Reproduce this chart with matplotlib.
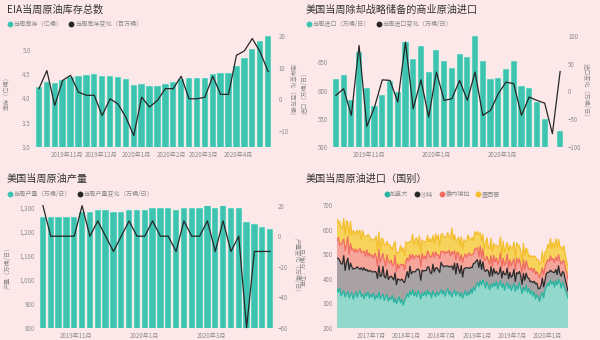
import matplotlib
matplotlib.use("Agg")
import matplotlib.pyplot as plt
import matplotlib.dates as mdates
from matplotlib.lines import Line2D
from matplotlib.ticker import FuncFormatter
import numpy as np
import pandas as pd

plt.rcParams['font.family'] = ['Noto Sans CJK SC', 'DejaVu Sans']

# ---------------- data ----------------
inv_title = 'EIA当周原油库存总数'
inv_legend = ['当周库存（亿桶）', '当周库存变化（百万桶）']
inv_ylabels = ['库存（亿桶）', '库存变化（百万桶）']
inv_start = '2019-10-07'
inventory = [4.24, 4.33, 4.31, 4.37, 4.44, 4.46, 4.48, 4.49, 4.45, 4.45,
             4.44, 4.39, 4.28, 4.29, 4.26, 4.26, 4.30, 4.33, 4.40, 4.41,
             4.41, 4.42, 4.50, 4.51, 4.53, 4.67, 4.83, 5.02, 5.17, 5.27]
inventory_change = [3.4, 9.1, -1.9, 6.0, 7.6, 2.3, 1.3, 1.3, -5.1, 0.2,
                    -1.4, -5.6, -11.4, 0.7, -2.4, -0.3, 3.4, 3.4, 7.3, 0.2,
                    0.2, 0.7, 7.3, 1.6, 1.6, 13.9, 15.3, 19.2, 15.0, 8.8]
inv_left_ticks = [3.0, 3.5, 4.0, 4.5, 5.0]
inv_right_ticks = [-10, 0, 10, 20]

imp_title = '美国当周除却战略储备的商业原油进口'
imp_legend = ['当周进口（万桶/日）', '当周进口变化（万桶/日）']
imp_ylabels = ['进口（万桶/日）', '进口变化（万桶/日）']
imp_start = '2019-10-02'
imports = [620, 627, 584, 669, 605, 573, 593, 618, 598, 686,
           656, 679, 633, 672, 653, 641, 665, 660, 697, 653,
           620, 622, 639, 653, 609, 604, 580, 550, 478, 528]
imports_change = [-7, 5, -43, 83, -63, -28, 21, 20, -19, 89,
                  -31, 21, -46, 35, -16, -13, 20, -16, 35, -43,
                  -34, -4, 17, 14, -43, -10, -16, -21, -76, 36]
imp_left_ticks = [500, 550, 600, 650]
imp_right_ticks = [-100, -50, 0, 50, 100]

prod_title = '美国当周原油产量'
prod_legend = ['当周产量（万桶/日）', '当周产量变化（万桶/日）']
prod_ylabels = ['产量（万桶/日）', '产量变化（万桶/日）']
prod_start = '2019-10-02'
production = [1260, 1260, 1260, 1260, 1260, 1280, 1280, 1290, 1290, 1280,
              1280, 1290, 1290, 1290, 1300, 1300, 1300, 1290, 1300, 1300,
              1300, 1310, 1300, 1310, 1300, 1300, 1240, 1230, 1220, 1210]
production_change = [20, 0, 0, 0, 0, 20, 0, 10, 0, -10,
                     0, 10, 0, 0, 10, 0, 0, -10, 10, 0,
                     0, 10, -10, 10, -10, 0, -60, -10, -10, -10]
prod_left_ticks = [800, 900, 1000, 1100, 1200, 1300]
prod_right_ticks = [-60, -40, -20, 0, 20]

cty_title = '美国当周原油进口（国别）'
cty_ylabel = '单位：万桶/日'
cty_start = '2017-01-06'
countries = ['加拿大', '沙特', '委内瑞拉', '墨西哥']
canada = [358, 345, 362, 330, 341, 352, 326, 338, 349, 322, 335, 344, 318,
          332, 347, 325, 340, 351, 328, 336, 319, 342, 330, 348, 321, 337,
          326, 341, 315, 333, 322, 346, 318, 329, 338, 312, 327, 335, 309,
          324, 316, 332, 305, 320, 298, 314, 327, 302, 318, 292, 310, 323,
          338, 326, 349, 334, 356, 331, 345, 327, 352, 339, 318, 343, 332,
          347, 329, 355, 336, 344, 322, 351, 338, 327, 349, 333, 341, 356,
          338, 352, 329, 346, 361, 335, 348, 326, 342, 355, 331, 347, 339,
          328, 344, 321, 337, 352, 330, 346, 335, 358, 341, 366, 352, 372,
          385, 368, 392, 374, 397, 380, 362, 388, 371, 356, 379, 366, 384,
          370, 389, 358, 376, 392, 365, 381, 354, 373, 386, 361, 378, 352,
          368, 381, 349, 372, 358, 385, 362, 340, 366, 351, 374, 345, 360,
          338, 352, 329, 346, 318, 335, 324, 308, 331, 345, 322, 356, 368,
          382, 371, 395, 378, 389, 366, 392, 375, 398, 384, 362, 387, 371,
          355, 338, 322]
saudi = [125, 138, 112, 131, 119, 142, 108, 127, 135, 115, 129, 104, 121,
         110, 96, 124, 103, 88, 117, 99, 126, 92, 108, 81, 113, 95,
         102, 87, 115, 94, 79, 106, 91, 84, 112, 97, 76, 101, 88,
         83, 95, 72, 90, 104, 78, 86, 69, 92, 81, 98, 74, 85,
         91, 79, 102, 86, 73, 97, 84, 110, 88, 95, 76, 92, 99,
         87, 104, 93, 112, 81, 99, 108, 90, 117, 96, 103, 85, 111,
         118, 97, 123, 105, 92, 114, 101, 126, 95, 109, 88, 116, 102,
         94, 110, 86, 103, 92, 115, 98, 107, 89, 104, 96, 112, 101,
         92, 78, 85, 64, 72, 55, 68, 49, 61, 53, 70, 46, 58,
         52, 41, 60, 47, 55, 38, 50, 63, 44, 57, 39, 48, 54,
         46, 58, 40, 53, 62, 45, 51, 37, 56, 43, 49, 60, 42,
         50, 38, 55, 44, 61, 47, 36, 52, 41, 58, 45, 39, 53,
         44, 56, 40, 51, 38, 59, 46, 42, 55, 37, 49, 43, 52,
         41, 34, 28]
venezuela = [72, 85, 64, 78, 91, 68, 80, 74, 87, 62, 79, 70, 83,
             66, 78, 59, 73, 84, 61, 75, 68, 57, 80, 64, 71, 58,
             69, 55, 74, 62, 50, 67, 58, 72, 53, 64, 48, 61, 70,
             57, 66, 49, 63, 71, 54, 60, 47, 65, 58, 69, 52, 62,
             55, 67, 48, 61, 70, 52, 64, 57, 46, 63, 55, 68, 50,
             59, 47, 65, 53, 61, 70, 49, 58, 66, 51, 62, 56, 45,
             54, 63, 48, 60, 52, 67, 45, 58, 64, 50, 57, 46, 61,
             53, 44, 60, 49, 57, 42, 55, 63, 47, 52, 40, 58, 46,
             51, 43, 56, 45, 52, 40, 48, 55, 42, 50, 46, 39, 53,
             47, 55, 41, 50, 58, 44, 52, 38, 49, 57, 43, 51, 46,
             54, 42, 50, 59, 45, 52, 40, 48, 56, 43, 51, 47, 38,
             49, 55, 43, 51, 39, 47, 56, 44, 52, 41, 48, 54, 45,
             52, 44, 58, 47, 55, 41, 50, 57, 45, 53, 48, 42, 51,
             46, 55, 49]
mexico = [88, 62, 95, 70, 54, 83, 66, 98, 58, 77, 91, 60, 74,
          82, 57, 90, 68, 75, 52, 86, 63, 79, 55, 88, 67, 72,
          60, 78, 53, 85, 64, 71, 49, 80, 58, 67, 84, 55, 69,
          74, 51, 66, 82, 57, 70, 48, 63, 77, 54, 68, 59, 80,
          62, 75, 53, 69, 81, 57, 66, 72, 50, 78, 61, 55, 70,
          58, 71, 64, 49, 76, 60, 68, 55, 73, 62, 80, 51, 67,
          74, 56, 69, 62, 82, 53, 71, 95, 58, 66, 77, 50, 68,
          61, 73, 55, 70, 48, 66, 79, 57, 64, 72, 52, 69, 60,
          65, 92, 54, 71, 60, 48, 67, 75, 53, 62, 70, 57, 49,
          63, 51, 72, 58, 66, 45, 70, 54, 61, 48, 67, 59, 73,
          55, 68, 47, 62, 71, 53, 59, 44, 66, 57, 50, 64, 48,
          58, 46, 63, 52, 70, 49, 61, 55, 43, 67, 51, 60, 47,
          62, 54, 71, 49, 66, 58, 75, 52, 63, 57, 69, 48, 60,
          55, 44, 50]
cty_ticks = [200, 300, 400, 500, 600, 700]

# ---------------- style ----------------
BG = '#fde8e9'
TEAL = '#3cc4b1'
LINE = '#262626'
TICK = '#8c8c8c'
TITLE = '#333333'
FILLS = ['#93d8cc', '#a9a2a4', '#f6a59b', '#f8d35c']
LINES = ['#27b5a1', '#2a2a2a', '#f06b62', '#f3be2c']
FS = 4.4

W, H = 600, 340
fig = plt.figure(figsize=(6, 3.4), dpi=100)
fig.patch.set_facecolor(BG)


def px_axes(x0, y0, x1, y1):
    return fig.add_axes([x0 / W, 1 - y1 / H, (x1 - x0) / W, (y1 - y0) / H])


def style(ax):
    for s in ax.spines.values():
        s.set_visible(False)
    ax.tick_params(length=0, labelsize=FS, colors=TICK, pad=3)
    ax.set_facecolor('none')


def month_fmt(v, p):
    d = mdates.num2date(v)
    return f"{d.year}年{d.month}月"


def title(x, y, s):
    fig.text(x / W, 1 - y / H, s, fontsize=7.3, color=TITLE, va='center', ha='left')


def legend2(x, y, labels, colors, loc='center left', ncol=2):
    handles = [Line2D([], [], marker='o', linestyle='None', color=c, markersize=3.2)
               for c in colors]
    fig.legend(handles, labels, loc=loc, bbox_to_anchor=(x / W, 1 - y / H), ncol=ncol,
               frameon=False, fontsize=FS, labelcolor=TICK, handletextpad=0.1,
               columnspacing=0.9, borderpad=0, borderaxespad=0, handlelength=1.0)


def bar_panel(box, start, bars, changes, lticks, rticks, lylim, rylim, lfmt,
              ylabels, lab_x, months, rpad=5):
    ax = px_axes(*box)
    style(ax)
    dates = pd.date_range(start, periods=len(bars), freq='7D')
    ax.bar(dates, bars, width=5.6, color=TEAL, edgecolor='#d9f3ee', linewidth=0.35,
           zorder=2)
    ax.set_xlim(dates[0] - pd.Timedelta(days=3.5), dates[-1] + pd.Timedelta(days=3.5))
    ax.set_ylim(*lylim)
    ax.set_yticks(lticks)
    ax.yaxis.set_major_formatter(FuncFormatter(lfmt))
    ax.xaxis.set_major_locator(mdates.MonthLocator(bymonth=months))
    ax.xaxis.set_major_formatter(FuncFormatter(month_fmt))
    ax.set_ylabel(ylabels[0], fontsize=FS, color=TICK)
    ax.yaxis.set_label_coords(lab_x[0], 0.5)
    axr = ax.twinx()
    style(axr)
    axr.plot(dates, changes, color=LINE, linewidth=0.9, zorder=3, clip_on=False)
    axr.set_ylim(*rylim)
    axr.set_yticks(rticks)
    axr.set_ylabel(ylabels[1], fontsize=FS, color=TICK, rotation=270)
    axr.yaxis.set_label_coords(lab_x[1], 0.5)
    axr.tick_params(pad=rpad)
    return ax, axr


# Panel 1
title(7, 10, inv_title)
legend2(7, 24, inv_legend, [TEAL, LINE])
bar_panel((35, 36, 272, 147), inv_start, inventory, inventory_change,
          inv_left_ticks, inv_right_ticks, (3.0, 5.28), (-15, 20),
          lambda v, p: f"{v:.1f}", inv_ylabels, (-0.1, 1.1),
          list(range(1, 13)))

# Panel 2
title(306, 10, imp_title)
legend2(306, 24, imp_legend, [TEAL, LINE])
bar_panel((332, 36, 564, 147), imp_start, imports, imports_change,
          imp_left_ticks, imp_right_ticks, (500, 697), (-100, 100),
          lambda v, p: f"{v:.0f}", imp_ylabels, (-0.1, 1.11),
          [1, 3, 5, 7, 9, 11], rpad=3)

# Panel 3
title(7, 179, prod_title)
legend2(7, 194, prod_legend, [TEAL, LINE])
bar_panel((39, 205.7, 274, 327.7), prod_start, production, production_change,
          prod_left_ticks, prod_right_ticks, (800, 1308), (-60, 20),
          lambda v, p: f"{v:,.0f}", prod_ylabels, (-0.115, 1.115),
          [1, 3, 5, 7, 9, 11], rpad=2.5)

# Panel 4
title(306, 179, cty_title)
legend2(442, 194, countries, LINES, loc='center', ncol=4)
ax4 = px_axes(337, 205, 568, 328)
style(ax4)
cdates = pd.date_range(cty_start, periods=len(canada), freq='7D')
series = [np.array(canada), np.array(saudi), np.array(venezuela), np.array(mexico)]
ax4.stackplot(cdates, *series, colors=FILLS, linewidth=0, zorder=1)
tops = np.cumsum(series, axis=0)
for top, c in zip(tops, LINES):
    ax4.plot(cdates, top, color=c, linewidth=0.9, zorder=2)
ax4.set_xlim(cdates[0], cdates[-1])
ax4.set_ylim(200, 700)
ax4.set_yticks(cty_ticks)
ax4.xaxis.set_major_locator(mdates.MonthLocator(bymonth=[1, 7]))
ax4.xaxis.set_major_formatter(FuncFormatter(month_fmt))
ax4.set_ylabel(cty_ylabel, fontsize=FS, color=TICK)
ax4.yaxis.set_label_coords(-0.125, 0.5)

fig.savefig('out.png', dpi=100, facecolor=BG)
